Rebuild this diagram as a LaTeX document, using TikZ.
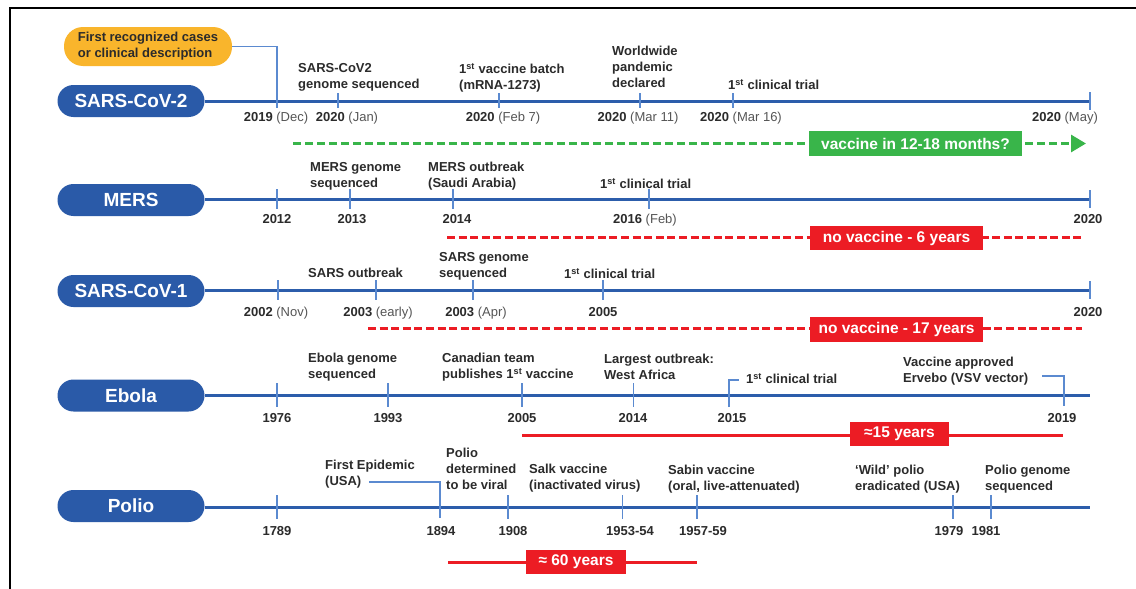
\documentclass[tikz,border=0pt]{standalone}
\usepackage{fontspec}
\setmainfont{Liberation Sans}
\usetikzlibrary{arrows.meta}
\definecolor{pillblue}{HTML}{2A5AA8}
\definecolor{lineblue}{HTML}{2C5DAB}
\definecolor{tickblue}{HTML}{5B8AD0}
\definecolor{orangebox}{HTML}{F9B52C}
\definecolor{greenbox}{HTML}{39B54A}
\definecolor{redbox}{HTML}{EC1C24}
\definecolor{txt}{HTML}{2B2B2B}
\definecolor{dgray}{HTML}{555555}
\newcommand\dyr[2]{\textbf{#1}\ {\color{dgray}(#2)}}
\newcommand\fst{1\textsuperscript{st}}
\begin{document}
\begin{tikzpicture}[x=1pt,y=-1pt,
  pill/.style={rectangle, rounded corners=16pt, fill=pillblue, text=white,
    font=\fontsize{19}{22}\selectfont\bfseries, minimum width=147pt, minimum height=32pt, inner sep=0pt},
  tl/.style={lineblue, line width=3pt},
  tk/.style={tickblue, line width=1.3pt},
  evt/.style={anchor=north west, inner sep=0pt, align=left, text=txt,
    font=\fontsize{13}{16}\selectfont\bfseries},
  dt/.style={anchor=base, inner sep=0pt, text=txt, font=\fontsize{13}{16}\selectfont},
  tag/.style={text=white, font=\fontsize{15.5}{18}\selectfont\bfseries, inner sep=0pt, minimum height=24pt},
  gtag/.style={tag, fill=greenbox, minimum width=213pt, minimum height=25pt},
  rtag/.style={tag, fill=redbox},
  gdash/.style={greenbox, line width=3pt, dash pattern=on 8pt off 4pt},
  rdash/.style={redbox, line width=3pt, dash pattern=on 8pt off 3.6pt},
  rsolid/.style={redbox, line width=3pt},
  callout/.style={rectangle, rounded corners=19pt, fill=orangebox, text=txt, align=left,
    font=\fontsize{13}{16}\selectfont\bfseries, minimum width=168pt, minimum height=39pt, inner sep=0pt},
  conn/.style={tickblue, line width=1.3pt}
]
\useasboundingbox (0,0) rectangle (1136,589);
\fill[white] (0,0) rectangle (1136,589);
\draw[line width=2pt] (10,620) -- (10,8) -- (1160,8);

% ---------------- SARS-CoV-2 ----------------
\node[pill] (p1) at (131,101) {SARS-CoV-2};
\coordinate (e1) at (1090,101);
\draw[tl] (p1.east) -- (e1);
\draw[tk] (1090,92) -- (1090,110);
\foreach \x in {338,499,640,733} \draw[tk] (\x,93) -- (\x,108);
\node[callout] (first) at (148,46.5) {First recognized cases\\or clinical description};
\coordinate (t2019) at (277,108);
\draw[conn] (first.east) -| (t2019);
\node[evt] (a1) at (298,63) {SARS-CoV2\\genome sequenced};
\node[evt] (a2) at (459,63) {\fst{} vaccine batch\\(mRNA-1273)};
\node[evt] (a3) at (612,46) {Worldwide\\pandemic\\declared};
\node[evt] (a4) at (728,79) {\fst{} clinical trial};
\node[dt] (d11) at (276,121.5) {\dyr{2019}{Dec}};
\node[dt] (d12) at (347,121.5) {\dyr{2020}{Jan}};
\node[dt] (d13) at (503,121.5) {\dyr{2020}{Feb 7}};
\node[dt] (d14) at (638,121.5) {\dyr{2020}{Mar 11}};
\node[dt] (d15) at (741,121.5) {\dyr{2020}{Mar 16}};
\node[dt] (d16) at (1065,121.5) {\dyr{2020}{May}};
\coordinate (gs) at (293,143.5);
\coordinate (ge) at (1086,143.5);
\draw[gdash, -{Triangle[length=15pt,width=17pt]}] (gs) -- (ge);
\node[gtag] (g1) at (915.5,143.5) {vaccine in 12-18 months?};

% ---------------- MERS ----------------
\node[pill] (p2) at (131,200) {MERS};
\coordinate (e2) at (1090,199);
\draw[tl] (p2.east |- e2) -- (e2);
\draw[tk] (1090,190) -- (1090,208);
\foreach \x in {277,350,453,649} \draw[tk] (\x,189) -- (\x,209);
\node[evt] (b1) at (310,162) {MERS genome\\sequenced};
\node[evt] (b2) at (428,162) {MERS outbreak\\(Saudi Arabia)};
\node[evt] (b3) at (600,178) {\fst{} clinical trial};
\node[dt] (d21) at (277,223.5) {\textbf{2012}};
\node[dt] (d22) at (352,223.5) {\textbf{2013}};
\node[dt] (d23) at (457,223.5) {\textbf{2014}};
\node[dt] (d24) at (645,223.5) {\dyr{2016}{Feb}};
\node[dt] (d25) at (1088,223.5) {\textbf{2020}};
\coordinate (rs2) at (447,237);
\coordinate (re2) at (1082,237);
\draw[rdash] (rs2) -- (re2);
\node[rtag, minimum width=173pt] (r2) at (896.5,238) {no vaccine - 6 years};

% ---------------- SARS-CoV-1 ----------------
\node[pill] (p3) at (131,291) {SARS-CoV-1};
\coordinate (e3) at (1090,290);
\draw[tl] (p3.east |- e3) -- (e3);
\draw[tk] (1090,281) -- (1090,299);
\foreach \x in {278,376,473,603} \draw[tk] (\x,280) -- (\x,300);
\node[evt] (c1) at (308,268) {SARS outbreak};
\node[evt] (c2) at (439,252) {SARS genome\\sequenced};
\node[evt] (c3) at (564,268) {\fst{} clinical trial};
\node[dt] (d31) at (276,316.5) {\dyr{2002}{Nov}};
\node[dt] (d32) at (378,316.5) {\dyr{2003}{early}};
\node[dt] (d33) at (476,316.5) {\dyr{2003}{Apr}};
\node[dt] (d34) at (603,316.5) {\textbf{2005}};
\node[dt] (d35) at (1088,316.5) {\textbf{2020}};
\coordinate (rs3) at (368,328.5);
\coordinate (re3) at (1082,328.5);
\draw[rdash] (rs3) -- (re3);
\node[rtag, minimum width=173pt, minimum height=25pt] (r3) at (896.5,329.5) {no vaccine - 17 years};

% ---------------- Ebola ----------------
\node[pill] (p4) at (131,395.5) {Ebola};
\coordinate (e4) at (1090,395);
\draw[tl] (p4.east |- e4) -- (e4);
\foreach \x in {277,388,522,633.5} \draw[tk] (\x,383) -- (\x,407);
\draw[conn] (729,407) -- (729,380) -- (739,380);
\node[evt] (f1) at (308,353) {Ebola genome\\sequenced};
\node[evt] (f2) at (442,353) {Canadian team\\publishes \fst{} vaccine};
\node[evt] (f3) at (604,354) {Largest outbreak:\\West Africa};
\node[evt] (f4) at (746,373) {\fst{} clinical trial};
\node[evt] (f5) at (903,357) {Vaccine approved\\Ervebo (VSV vector)};
\coordinate (f5c) at (1042,376);
\coordinate (t2019e) at (1064,406);
\draw[conn] (f5c) -| (t2019e);
\node[dt] (d41) at (277,422.5) {\textbf{1976}};
\node[dt] (d42) at (388,422.5) {\textbf{1993}};
\node[dt] (d43) at (522,422.5) {\textbf{2005}};
\node[dt] (d44) at (633,422.5) {\textbf{2014}};
\node[dt] (d45) at (732,422.5) {\textbf{2015}};
\node[dt] (d46) at (1062,422.5) {\textbf{2019}};
\coordinate (rs4) at (522,435);
\coordinate (re4) at (1063,435);
\draw[rsolid] (rs4) -- (re4);
\node[rtag, minimum width=99pt] (r4) at (899.5,434) {≈15 years};

% ---------------- Polio ----------------
\node[pill] (p5) at (131,506) {Polio};
\coordinate (e5) at (1090,507);
\draw[tl] (p5.east |- e5) -- (e5);
\foreach \x in {277,508,622.5,697,953,991} \draw[tk] (\x,495) -- (\x,519);
\node[evt] (h1) at (325,460) {First Epidemic\\(USA)};
\coordinate (h1c) at (369,482);
\coordinate (t1894) at (440,518);
\draw[conn] (h1c) -| (t1894);
\node[evt] (h2) at (446,448) {Polio\\determined\\to be viral};
\node[evt] (h3) at (529,464) {Salk vaccine\\(inactivated virus)};
\node[evt] (h4) at (668,465) {Sabin vaccine\\(oral, live-attenuated)};
\node[evt] (h5) at (855,465) {‘Wild’ polio\\eradicated (USA)};
\node[evt] (h6) at (985,465) {Polio genome\\sequenced};
\node[dt] (d51) at (277,535.5) {\textbf{1789}};
\node[dt] (d52) at (441,535.5) {\textbf{1894}};
\node[dt] (d53) at (513,535.5) {\textbf{1908}};
\node[dt] (d54) at (630,535.5) {\textbf{1953-54}};
\node[dt] (d55) at (703,535.5) {\textbf{1957-59}};
\node[dt] (d56) at (949,535.5) {\textbf{1979}};
\node[dt] (d57) at (986,535.5) {\textbf{1981}};
\coordinate (rs5) at (448,562);
\coordinate (re5) at (697,562);
\draw[rsolid] (rs5) -- (re5);
\node[rtag, minimum width=100pt] (r5) at (576,562) {≈ 60 years};
\end{tikzpicture}
\end{document}
